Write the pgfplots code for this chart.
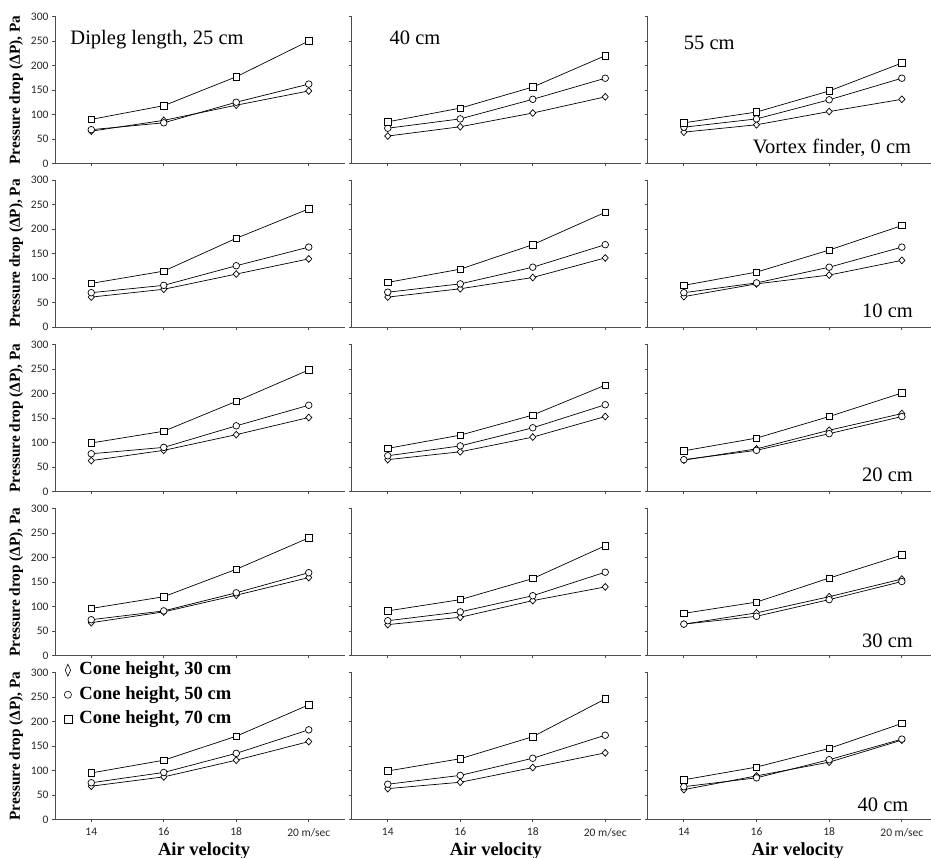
\documentclass[border=0pt]{standalone}
\usepackage{pgfplots}
\pgfplotsset{compat=1.18}
\usepackage{fontspec}
\setmainfont{Liberation Serif}
\newfontfamily\tickfont{Carlito}
\begin{document}
\begin{tikzpicture}
\useasboundingbox (0pt,0pt) rectangle (931pt,858pt);
\pgfplotsset{
  panel/.style={
    scale only axis, height=147pt, ymin=0, ymax=300, xmin=13,
    axis lines=left, axis line style={-, black!70, line width=0.8pt},
    every tick/.style={black!70, line width=0.8pt},
    tick align=outside, major tick length=3pt,
    ytick={0,50,...,300}, xtick={14,16,18,20},
    xticklabels={}, yticklabels={},
    tick label style={font=\tickfont\fontsize{11.5}{12}\selectfont, text=black!85},
    xticklabel style={yshift=-2pt},
    /pgf/number format/assume math mode=true,
    anchor=south west, clip=false,
    every axis y label/.style={at={(axis description cs:-0.134,0.5)}, rotate=90, anchor=center, font=\bfseries\fontsize{15.3}{15.3}\selectfont},
    every axis x label/.style={at={(axis description cs:0.5,-0.243)}, anchor=base, font=\bfseries\fontsize{18.5}{18.5}\selectfont},
  },
  c1/.style={width=290pt, xmax=21, yticklabels={0,50,100,150,200,250,300}, ylabel={Pressure drop (ΔP), Pa}},
  c2/.style={width=290pt, xmax=21},
  c3/.style={width=283.4pt, xmax=20.8},
  bottom/.style={xticklabels={14,16,18,20 m/sec}, xlabel={Air velocity}},
  sD/.style={black, line width=0.7pt, mark=diamond*, mark size=3.4pt, mark options={fill=white, solid, xscale=1.2}},
  sC/.style={black, line width=0.7pt, mark=*, mark size=3.3pt, mark options={fill=white, solid}},
  sS/.style={black, line width=0.7pt, mark=square*, mark size=3.2pt, mark options={fill=white, solid}},
}
% ---------------- Row 1 (vortex finder 0 cm)
\begin{axis}[panel, c1, at={(55pt,694.5pt)}]
\addplot[sD] coordinates {(14,66) (16,88) (18,119) (20,148)};
\addplot[sC] coordinates {(14,69) (16,83) (18,125) (20,162)};
\addplot[sS] coordinates {(14,90) (16,118) (18,177) (20,250)};
\end{axis}
\begin{axis}[panel, c2, at={(351.5pt,694.5pt)}]
\addplot[sD] coordinates {(14,56) (16,75) (18,103) (20,136)};
\addplot[sC] coordinates {(14,72) (16,91) (18,131) (20,174)};
\addplot[sS] coordinates {(14,85) (16,113) (18,156) (20,220)};
\end{axis}
\begin{axis}[panel, c3, at={(647.5pt,694.5pt)}]
\addplot[sD] coordinates {(14,64) (16,79) (18,106) (20,131)};
\addplot[sC] coordinates {(14,74) (16,91) (18,130) (20,174)};
\addplot[sS] coordinates {(14,83) (16,105) (18,148) (20,205)};
\end{axis}
% ---------------- Row 2 (10 cm)
\begin{axis}[panel, c1, at={(55pt,531pt)}]
\addplot[sD] coordinates {(14,61) (16,77) (18,108) (20,139)};
\addplot[sC] coordinates {(14,70) (16,85) (18,125) (20,163)};
\addplot[sS] coordinates {(14,89) (16,114) (18,181) (20,241)};
\end{axis}
\begin{axis}[panel, c2, at={(351.5pt,531pt)}]
\addplot[sD] coordinates {(14,61) (16,78) (18,101) (20,141)};
\addplot[sC] coordinates {(14,71) (16,88) (18,122) (20,168)};
\addplot[sS] coordinates {(14,91) (16,118) (18,168) (20,234)};
\end{axis}
\begin{axis}[panel, c3, at={(647.5pt,531pt)}]
\addplot[sD] coordinates {(14,62) (16,88) (18,106) (20,136)};
\addplot[sC] coordinates {(14,70) (16,90) (18,122) (20,163)};
\addplot[sS] coordinates {(14,85) (16,112) (18,157) (20,207)};
\end{axis}
% ---------------- Row 3 (20 cm)
\begin{axis}[panel, c1, at={(55pt,366.5pt)}]
\addplot[sD] coordinates {(14,63) (16,84) (18,116) (20,151)};
\addplot[sC] coordinates {(14,77) (16,90) (18,134) (20,176)};
\addplot[sS] coordinates {(14,99) (16,123) (18,184) (20,248)};
\end{axis}
\begin{axis}[panel, c2, at={(351.5pt,366.5pt)}]
\addplot[sD] coordinates {(14,65) (16,81) (18,111) (20,153)};
\addplot[sC] coordinates {(14,73) (16,93) (18,130) (20,177)};
\addplot[sS] coordinates {(14,88) (16,115) (18,156) (20,217)};
\end{axis}
\begin{axis}[panel, c3, at={(647.5pt,366.5pt)}]
\addplot[sD] coordinates {(14,64) (16,87) (18,125) (20,159)};
\addplot[sC] coordinates {(14,65) (16,84) (18,118) (20,153)};
\addplot[sS] coordinates {(14,83) (16,109) (18,153) (20,201)};
\end{axis}
% ---------------- Row 4 (30 cm)
\begin{axis}[panel, c1, at={(55pt,202.5pt)}]
\addplot[sD] coordinates {(14,67) (16,89) (18,123) (20,159)};
\addplot[sC] coordinates {(14,73) (16,91) (18,128) (20,169)};
\addplot[sS] coordinates {(14,96) (16,120) (18,176) (20,240)};
\end{axis}
\begin{axis}[panel, c2, at={(351.5pt,202.5pt)}]
\addplot[sD] coordinates {(14,63) (16,78) (18,112) (20,140)};
\addplot[sC] coordinates {(14,71) (16,89) (18,122) (20,170)};
\addplot[sS] coordinates {(14,91) (16,114) (18,157) (20,224)};
\end{axis}
\begin{axis}[panel, c3, at={(647.5pt,202.5pt)}]
\addplot[sD] coordinates {(14,64) (16,87) (18,120) (20,156)};
\addplot[sC] coordinates {(14,64) (16,80) (18,114) (20,151)};
\addplot[sS] coordinates {(14,86) (16,109) (18,158) (20,205)};
\end{axis}
% ---------------- Row 5 (40 cm)
\begin{axis}[panel, c1, bottom, at={(55pt,38.5pt)},
  every axis x label/.append style={at={(axis description cs:0.514,-0.243)}},
  legend cell align=left,
  legend image code/.code={\draw[#1] plot coordinates {(0pt,0pt)};},
  legend style={at={(axis description cs:0.03,1.085)}, anchor=north west, draw=none, fill=none,
    font=\bfseries\fontsize{18.6}{20}\selectfont, row sep=4.5pt, inner sep=0pt,
    /tikz/every odd column/.append style={column sep=6pt},
    nodes={inner sep=1.5pt, text height=13pt, text depth=4pt}}]
\addlegendimage{only marks, black, mark=diamond, mark size=6pt, mark options={xscale=0.6, line width=0.6pt}}
\addlegendentry{Cone height, 30 cm}
\addlegendimage{only marks, black, mark=o, mark size=3.6pt, mark options={line width=0.6pt}}
\addlegendentry{Cone height, 50 cm}
\addlegendimage{only marks, black, mark=square, mark size=4pt, mark options={line width=0.6pt}}
\addlegendentry{Cone height, 70 cm}
\addplot[sD, forget plot] coordinates {(14,68) (16,87) (18,121) (20,159)};
\addplot[sC, forget plot] coordinates {(14,75) (16,96) (18,135) (20,183)};
\addplot[sS, forget plot] coordinates {(14,95) (16,121) (18,170) (20,234)};
\end{axis}
\begin{axis}[panel, c2, bottom, at={(351.5pt,38.5pt)},
  every axis x label/.append style={at={(axis description cs:0.498,-0.243)}}]
\addplot[sD] coordinates {(14,63) (16,76) (18,106) (20,136)};
\addplot[sC] coordinates {(14,72) (16,90) (18,125) (20,172)};
\addplot[sS] coordinates {(14,99) (16,124) (18,169) (20,246)};
\end{axis}
\begin{axis}[panel, c3, bottom, at={(647.5pt,38.5pt)},
  every axis x label/.append style={at={(axis description cs:0.53,-0.243)}}]
\addplot[sD] coordinates {(14,61) (16,89) (18,117) (20,162)};
\addplot[sC] coordinates {(14,67) (16,85) (18,122) (20,164)};
\addplot[sS] coordinates {(14,81) (16,107) (18,145) (20,196)};
\end{axis}
% ---------------- annotations
\begin{scope}[every node/.style={font=\fontsize{20.5}{20.5}\selectfont, anchor=base, inner sep=0pt}]
\node at (157pt,813pt) {Dipleg length, 25 cm};
\node at (415pt,813pt) {40 cm};
\node at (709.3pt,808.7pt) {55 cm};
\node at (832pt,704.7pt) {Vortex finder, 0 cm};
\node at (887.5pt,540pt) {10 cm};
\node at (887.5pt,376pt) {20 cm};
\node at (887.5pt,210.3pt) {30 cm};
\node at (883pt,46.3pt) {40 cm};
\end{scope}
\end{tikzpicture}
\end{document}
